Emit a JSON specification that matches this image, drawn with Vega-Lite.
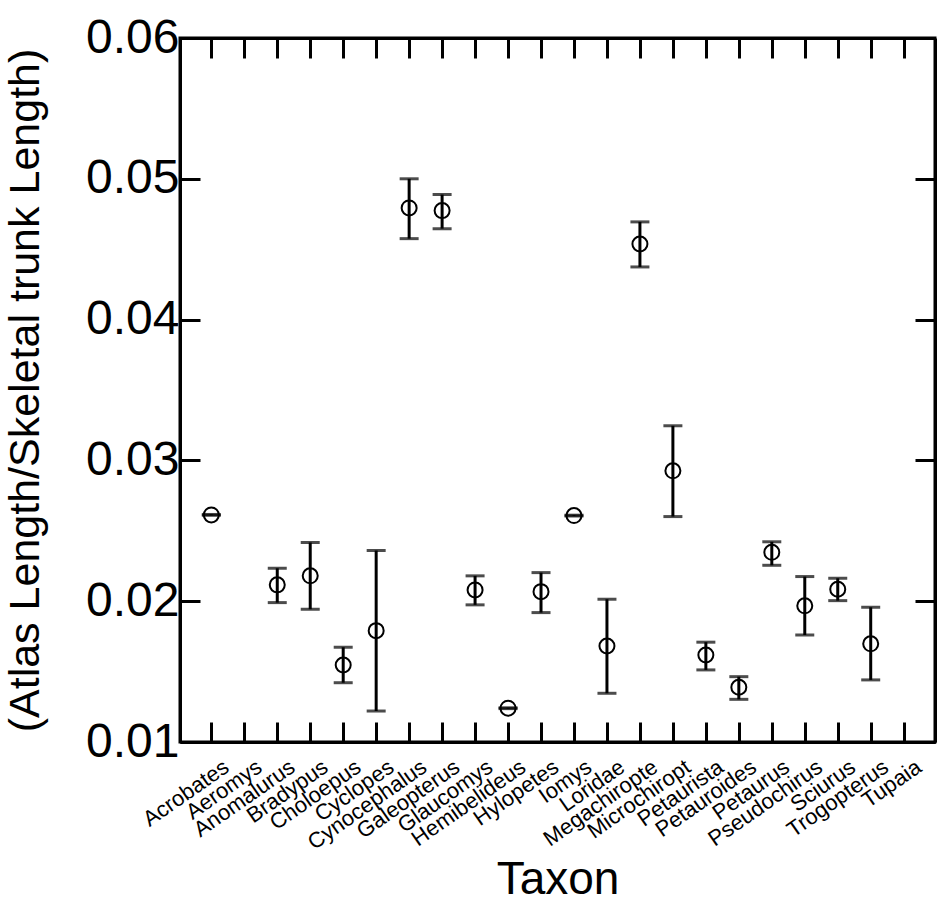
{
  "$schema": "https://vega.github.io/schema/vega-lite/v6.json",
  "autosize": "none",
  "width": 755,
  "height": 704,
  "padding": {"left": 180, "top": 38, "right": 3, "bottom": 165},
  "background": "white",
  "config": {
    "view": {"stroke": "black", "strokeWidth": 3},
    "font": "Liberation Sans",
    "axis": {"grid": false, "domainColor": "black", "domainWidth": 3, "tickColor": "black", "tickWidth": 3, "labelColor": "black", "titleColor": "black", "labelFont": "Liberation Sans", "titleFont": "Liberation Sans", "titleFontWeight": "normal"}
  },
  "data": {
    "values": [
      {"taxon": "Acrobates", "mean": 0.02613, "lo": 0.0261, "hi": 0.02616},
      {"taxon": "Anomalurus", "mean": 0.02116, "lo": 0.0199, "hi": 0.02234},
      {"taxon": "Bradypus", "mean": 0.0218, "lo": 0.01943, "hi": 0.02417},
      {"taxon": "Choloepus", "mean": 0.01547, "lo": 0.01421, "hi": 0.01673},
      {"taxon": "Cyclopes", "mean": 0.01791, "lo": 0.0122, "hi": 0.0236},
      {"taxon": "Cynocephalus", "mean": 0.04793, "lo": 0.04575, "hi": 0.05},
      {"taxon": "Galeopterus", "mean": 0.04774, "lo": 0.04646, "hi": 0.04888},
      {"taxon": "Glaucomys", "mean": 0.0208, "lo": 0.01974, "hi": 0.0218},
      {"taxon": "Hemibelideus", "mean": 0.0124, "lo": 0.01237, "hi": 0.01243},
      {"taxon": "Hylopetes", "mean": 0.02068, "lo": 0.01919, "hi": 0.02203},
      {"taxon": "Iomys", "mean": 0.02608, "lo": 0.02605, "hi": 0.02611},
      {"taxon": "Loridae", "mean": 0.01682, "lo": 0.01346, "hi": 0.02014},
      {"taxon": "Megachiropte", "mean": 0.04537, "lo": 0.04374, "hi": 0.04694},
      {"taxon": "Microchiropt", "mean": 0.02926, "lo": 0.02601, "hi": 0.03246},
      {"taxon": "Petaurista", "mean": 0.01618, "lo": 0.01512, "hi": 0.01709},
      {"taxon": "Petauroides", "mean": 0.01389, "lo": 0.01303, "hi": 0.01464},
      {"taxon": "Petaurus", "mean": 0.02347, "lo": 0.02255, "hi": 0.02422},
      {"taxon": "Pseudochirus", "mean": 0.01967, "lo": 0.0176, "hi": 0.02175},
      {"taxon": "Sciurus", "mean": 0.02085, "lo": 0.02004, "hi": 0.02163},
      {"taxon": "Trogopterus", "mean": 0.01697, "lo": 0.01441, "hi": 0.01957}
    ]
  },
  "encoding": {
    "x": {"field": "taxon", "type": "nominal",
      "scale": {"type": "point", "padding": 0.95, "domain": ["Acrobates","Aeromys","Anomalurus","Bradypus","Choloepus","Cyclopes","Cynocephalus","Galeopterus","Glaucomys","Hemibelideus","Hylopetes","Iomys","Loridae","Megachiropte","Microchiropt","Petaurista","Petauroides","Petaurus","Pseudochirus","Sciurus","Trogopterus","Tupaia"]}}
  },
  "layer": [
    {
      "mark": {"type": "rule", "color": "black", "strokeWidth": 3},
      "encoding": {
        "x": {"field": "taxon", "type": "nominal",
          "axis": {"orient": "bottom", "title": "Taxon", "titleFontSize": 46, "titlePadding": 4, "labelFontSize": 22, "labelAngle": -35, "tickSize": -20, "labelPadding": 34, "labelOffset": 9}},
        "y": {"field": "lo", "type": "quantitative",
          "scale": {"domain": [0.01, 0.06], "nice": false, "zero": false},
          "axis": {"orient": "left", "title": "(Atlas Length/Skeletal trunk Length)", "titleFontSize": 43, "titlePadding": 38, "labelFontSize": 48, "format": ".2f", "values": [0.01, 0.02, 0.03, 0.04, 0.05, 0.06], "tickSize": -20, "labelPadding": 21}},
        "y2": {"field": "hi"}
      }
    },
    {
      "mark": {"type": "tick", "color": "black", "thickness": 3, "size": 19, "orient": "horizontal"},
      "encoding": {
        "x": {"field": "taxon", "type": "nominal", "axis": null},
        "y": {"field": "lo", "type": "quantitative", "axis": null}
      }
    },
    {
      "mark": {"type": "tick", "color": "black", "thickness": 3, "size": 19, "orient": "horizontal"},
      "encoding": {
        "x": {"field": "taxon", "type": "nominal", "axis": null},
        "y": {"field": "hi", "type": "quantitative", "axis": null}
      }
    },
    {
      "mark": {"type": "point", "shape": "circle", "filled": false, "color": "black", "strokeWidth": 2, "size": 225, "opacity": 1},
      "encoding": {
        "x": {"field": "taxon", "type": "nominal",
          "axis": {"orient": "top", "title": null, "labels": false, "tickSize": -20}},
        "y": {"field": "mean", "type": "quantitative",
          "axis": {"orient": "right", "title": null, "labels": false, "tickSize": -20, "values": [0.01, 0.02, 0.03, 0.04, 0.05, 0.06]}}
      }
    }
  ],
  "resolve": {"axis": {"x": "independent", "y": "independent"}}
}
